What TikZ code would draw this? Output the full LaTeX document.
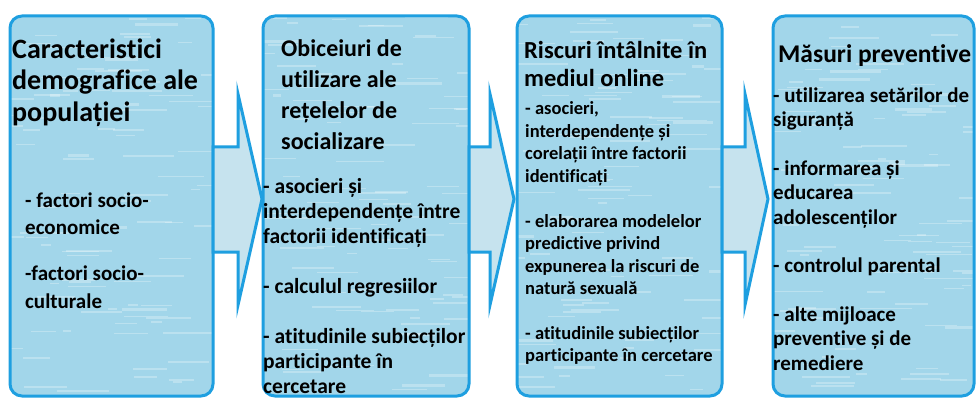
\documentclass[tikz,border=0pt]{standalone}
\usepackage{fontspec}
\setmainfont{Carlito}[Ligatures=NoCommon]
\definecolor{boxfill}{HTML}{A2D6EA}
\definecolor{boxline}{HTML}{1E9FE0}
\definecolor{arrowfill}{HTML}{C6E3EE}
\tikzset{
  stagefill/.style={fill=boxfill, rounded corners=12pt},
  stageline/.style={draw=boxline, line width=3pt, rounded corners=12pt},
  flow/.style={draw=boxline, line width=3pt, fill=arrowfill, line join=miter},
  txt/.style={anchor=north west, inner sep=0pt, align=left, text=black},
  streak/.style={fill=white, opacity=0.28},
}
\newcommand{\waterbox}[4]{%
  \fill[stagefill] (#1,#2) rectangle (#3,#4);
  \begin{scope}
    \clip[rounded corners=12pt] (#1,#2) rectangle (#3,#4);
    \foreach \k in {1,...,90}{%
      \pgfmathsetmacro{\sx}{#1+(#3-#1)*rnd-10}%
      \pgfmathsetmacro{\sy}{#2+(#4-#2)*rnd}%
      \pgfmathsetmacro{\sl}{8+45*rnd}%
      \pgfmathsetmacro{\sh}{0.8+1.8*rnd}%
      \fill[streak] (\sx,\sy) rectangle ++(\sl,\sh);
    }
  \end{scope}
  \draw[stageline] (#1,#2) rectangle (#3,#4);
}
\begin{document}
\begin{tikzpicture}[x=1pt,y=-1pt]
\pgfmathsetseed{11}
\useasboundingbox (0,0) rectangle (977,398);
\fill[white] (0,0) rectangle (977,398);
% boxes
\waterbox{10}{16}{213}{396}
\waterbox{263}{16}{469}{396}
\waterbox{517}{16}{722}{396}
\waterbox{773}{16}{974}{396}
% arrows
\draw[flow] (213,147) -- (238,147) -- (238,94) -- (262,199) -- (238,305) -- (238,252) -- (213,252) -- cycle;
\draw[flow] (469,147) -- (490,147) -- (490,94) -- (514,199) -- (490,305) -- (490,252) -- (469,252) -- cycle;
\draw[flow] (722,147) -- (745,147) -- (745,94) -- (768,199) -- (745,305) -- (745,252) -- (722,252) -- cycle;
% texts
\node[txt, font=\bfseries\fontsize{28}{31.5}\selectfont] (t1) at (12,36)
  {\strut Caracteristici\\demografice ale\\populației};
\node[txt, font=\bfseries\fontsize{21}{27.5}\selectfont] (d1) at (25,188)
  {\strut - factori socio-\\economice\\[18.5pt]-factori socio-\\culturale};

\node[txt, font=\bfseries\fontsize{24}{31}\selectfont] (t2) at (281,35)
  {\strut Obiceiuri de\\utilizare ale\\rețelelor de\\socializare};
\node[txt, font=\bfseries\fontsize{21.5}{25.2}\selectfont] (d2) at (263,175.5)
  {\strut - asocieri și\\interdependențe între\\factorii identificați\\[24.5pt]- calculul regresiilor\\[24.5pt]- atitudinile subiecților\\participante în\\cercetare};

\node[txt, font=\bfseries\fontsize{24.5}{27.5}\selectfont] (t3) at (524,39.5)
  {\strut Riscuri întâlnite în\\mediul online};
\node[txt, font=\bfseries\fontsize{18.5}{22.5}\selectfont] (d3) at (525,99)
  {\strut - asocieri,\\interdependențe și\\corelații între factorii\\identificați\\[22.25pt]- elaborarea modelelor\\predictive privind\\expunerea la riscuri de\\natură sexuală\\[22.25pt]- atitudinile subiecților\\participante în cercetare};

\node[txt, font=\bfseries\fontsize{25.5}{31}\selectfont] (t4) at (778,40.5)
  {\strut Măsuri preventive};
\node[txt, font=\bfseries\fontsize{21}{24.5}\selectfont] (d4) at (773,85)
  {\strut - utilizarea setărilor de\\siguranță\\[24pt]- informarea și\\educarea\\adolescenților\\[24pt]- controlul parental\\[24pt]- alte mijloace\\preventive și de\\remediere};
\end{tikzpicture}
\end{document}
